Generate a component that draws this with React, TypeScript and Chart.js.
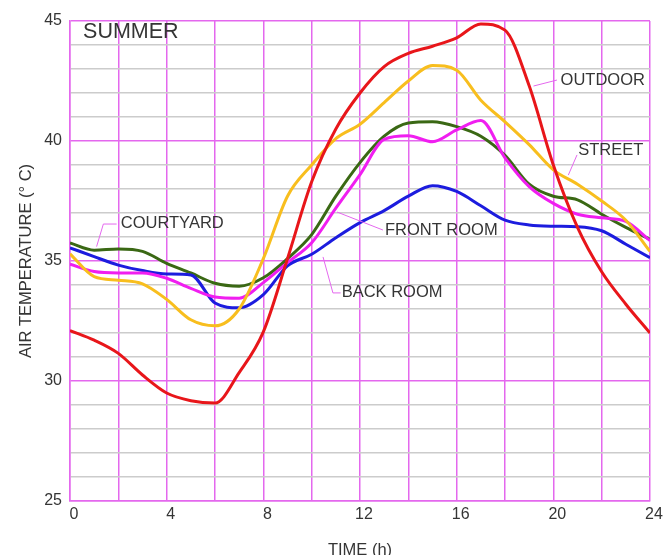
import React, { useEffect, useRef } from 'react';
import { Chart, registerables } from 'chart.js';

Chart.register(...registerables);

// ---- data ----
const hours = [0, 1, 2, 3, 4, 5, 6, 7, 8, 9, 10, 11, 12, 13, 14, 15, 16, 17, 18, 19, 20, 21, 22, 23, 24];
const outdoor = [32.1, 31.7, 31.15, 30.25, 29.5, 29.18, 29.08, 30.35, 32.05, 35.1, 38.3, 40.5, 42.0, 43.1, 43.65, 43.95, 44.3, 44.88, 44.62, 42.3, 39.0, 36.4, 34.55, 33.2, 32.0];
const street = [35.3, 34.35, 34.2, 34.05, 33.4, 32.55, 32.3, 33.0, 35.1, 37.7, 39.0, 40.1, 40.7, 41.6, 42.5, 43.15, 42.95, 41.7, 40.8, 39.85, 38.8, 38.2, 37.5, 36.7, 35.4];
const courtyard = [35.75, 35.45, 35.5, 35.4, 34.9, 34.5, 34.07, 33.95, 34.3, 35.1, 36.1, 37.7, 39.1, 40.2, 40.75, 40.8, 40.6, 40.2, 39.4, 38.2, 37.7, 37.55, 36.95, 36.4, 35.9];
const frontRoom = [34.87, 34.56, 34.5, 34.5, 34.28, 33.86, 33.5, 33.45, 34.1, 34.93, 35.76, 37.2, 38.6, 40.07, 40.22, 39.97, 40.46, 40.85, 39.3, 38.1, 37.4, 36.95, 36.8, 36.65, 35.85];
const backRoom = [35.55, 35.18, 34.83, 34.6, 34.46, 34.42, 33.25, 33.05, 33.6, 34.8, 35.28, 35.97, 36.6, 37.1, 37.7, 38.14, 37.9, 37.3, 36.7, 36.5, 36.45, 36.43, 36.26, 35.7, 35.14];

const seriesNames = ['OUTDOOR', 'STREET', 'FRONT ROOM', 'BACK ROOM', 'COURTYARD'];
const xLabelTicks = [0, 4, 8, 12, 16, 20, 24];
const yLabelTicks = [25, 30, 35, 40, 45];
const chartTitle = 'SUMMER';
const xTitle = 'TIME (h)';
const yTitle = 'AIR TEMPERATURE (° C)';

// ---- styles / annotation placement (data coordinates) ----
const MAGENTA = 'rgb(228, 104, 238)';
const GRAY = 'rgb(204, 204, 204)';
const TEXT = '#353535';
const FONT = '"Liberation Sans", Arial, sans-serif';

const labelNotes = [
  { text: 'OUTDOOR', at: [20.3, 42.54], leader: [[20.15, 42.54], [19.18, 42.29]] },
  { text: 'STREET', at: [21.03, 39.6], leader: [[20.98, 39.42], [20.62, 38.58]] },
  { text: 'COURTYARD', at: [2.1, 36.55], leader: [[1.93, 36.54], [1.38, 36.54], [1.1, 35.6]] },
  { text: 'FRONT ROOM', at: [13.03, 36.26], leader: [[12.95, 36.29], [11.05, 37.04]] },
  { text: 'BACK ROOM', at: [11.24, 33.68], leader: [[11.2, 33.67], [10.88, 33.67], [10.47, 35.17]] },
];
const titleAt = [0.54, 44.52];

const toPoints = (vals: number[]) => hours.map((h, i) => ({ x: h, y: vals[i] }));

const notesPlugin = {
  id: 'notes',
  afterDatasetsDraw(chart: any) {
    const { ctx, scales } = chart;
    const xs = scales.x;
    const ys = scales.y;
    ctx.save();
    ctx.strokeStyle = MAGENTA;
    ctx.lineWidth = 1;
    labelNotes.forEach((n) => {
      ctx.beginPath();
      n.leader.forEach((p, i) => {
        const px = xs.getPixelForValue(p[0]);
        const py = ys.getPixelForValue(p[1]);
        if (i === 0) ctx.moveTo(px, py);
        else ctx.lineTo(px, py);
      });
      ctx.stroke();
    });
    ctx.fillStyle = TEXT;
    ctx.textAlign = 'left';
    ctx.textBaseline = 'middle';
    ctx.font = `16.5px ${FONT}`;
    labelNotes.forEach((n) => {
      ctx.fillText(n.text, xs.getPixelForValue(n.at[0]), ys.getPixelForValue(n.at[1]));
    });
    ctx.font = `21.5px ${FONT}`;
    ctx.fillText(chartTitle, xs.getPixelForValue(titleAt[0]), ys.getPixelForValue(titleAt[1]));
    ctx.restore();
  },
};

export default function App() {
  const ref = useRef<HTMLCanvasElement>(null);
  useEffect(() => {
    if (!ref.current) return;
    const series = [outdoor, street, frontRoom, backRoom, courtyard];
    const colors = ['rgb(232, 22, 26)', 'rgb(248, 190, 30)', 'rgb(240, 30, 240)', 'rgb(28, 28, 222)', 'rgb(58, 104, 20)'];
    const chart = new Chart(ref.current, {
      type: 'line',
      data: {
        datasets: series.map((s, i) => ({
          label: seriesNames[i],
          data: toPoints(s),
          borderColor: colors[i],
          backgroundColor: colors[i],
          borderWidth: 3,
          pointRadius: 0,
          fill: false,
          cubicInterpolationMode: 'monotone' as const,
        })),
      },
      options: {
        responsive: false,
        animation: false,
        layout: { padding: { top: 21, right: 13, left: 0, bottom: 0 } },
        plugins: { legend: { display: false }, tooltip: { enabled: false } },
        scales: {
          x: {
            type: 'linear',
            min: 0,
            max: 24,
            afterFit: (s: any) => { s.height = 54; },
            ticks: {
              stepSize: 2,
              autoSkip: false,
              maxRotation: 0,
              padding: 4,
              labelOffset: 4,
              color: TEXT,
              font: { family: FONT, size: 16 },
              callback: (v: any) => (xLabelTicks.includes(v) ? String(v) : ''),
            },
            grid: { color: MAGENTA, lineWidth: 1.5, drawTicks: false },
            border: { color: MAGENTA, width: 1.5 },
            title: {
              display: true,
              text: xTitle,
              color: TEXT,
              font: { family: FONT, size: 16.5, lineHeight: 0.5 },
              padding: { top: 0, bottom: 0 },
            },
          },
          y: {
            min: 25,
            max: 45,
            afterFit: (s: any) => { s.width = 70; },
            ticks: {
              stepSize: 1,
              autoSkip: false,
              padding: 8,
              color: TEXT,
              font: { family: FONT, size: 16 },
              callback: (v: any) => (yLabelTicks.includes(v) ? String(v) : ''),
            },
            grid: {
              drawTicks: false,
              color: (c: any) => (c.tick && c.tick.value % 5 === 0 ? MAGENTA : GRAY),
              lineWidth: 1.5,
            },
            border: { color: MAGENTA, width: 1.5 },
            title: {
              display: true,
              text: yTitle,
              color: TEXT,
              font: { family: FONT, size: 16.5 },
              padding: { top: 17, bottom: 0 },
            },
          },
        },
      },
      plugins: [notesPlugin],
    });
    return () => chart.destroy();
  }, []);
  return (
    <div style={{ position: 'fixed', left: 0, top: 0, width: 663, height: 555, background: '#fff' }}>
      <canvas ref={ref} width={663} height={555} />
    </div>
  );
}
